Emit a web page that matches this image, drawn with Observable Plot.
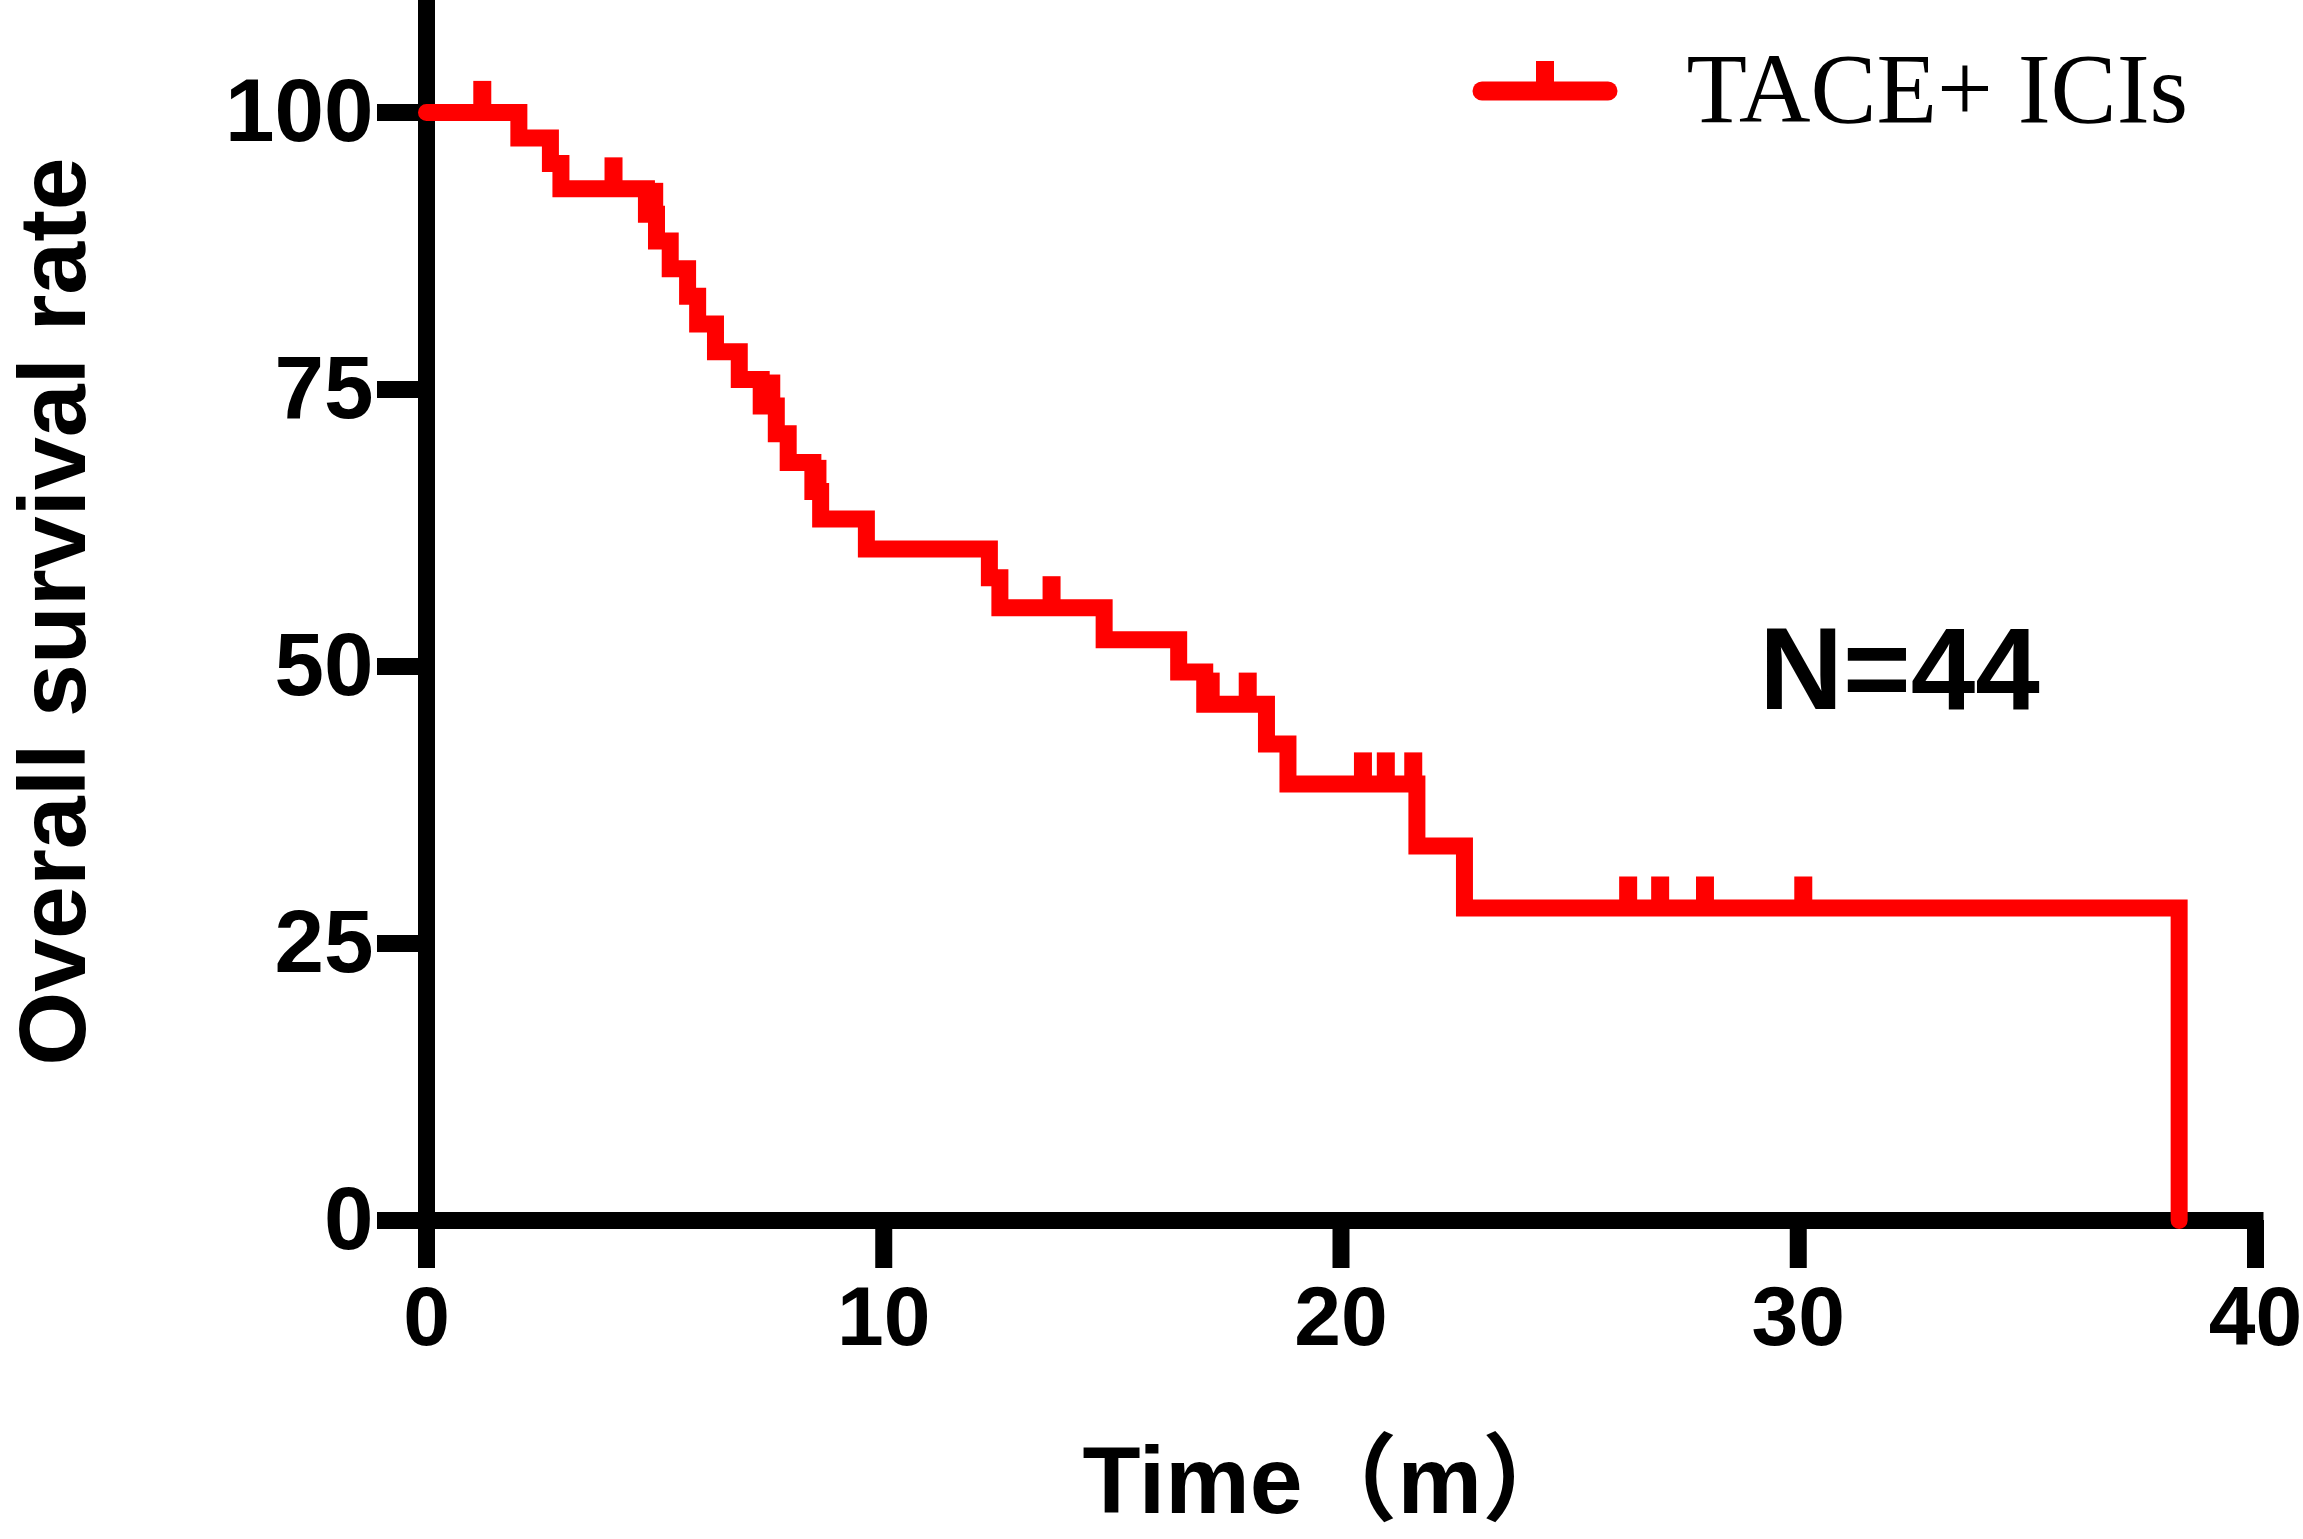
<!DOCTYPE html>
<html>
<head>
<meta charset="utf-8">
<script src="https://cdn.jsdelivr.net/npm/d3@7"></script>
<script src="https://cdn.jsdelivr.net/npm/@observablehq/plot@0.6"></script>
<style>
  html, body { margin: 0; padding: 0; background: #fff; }
</style>
</head>
<body>
<div id="chart"></div>
<script>
// Kaplan–Meier steps: time (months) at which survival drops, and survival (%) after the drop
const times    = [0, 2.02, 2.71, 2.94, 4.81, 5.03, 5.33, 5.71, 5.93, 6.32, 6.84, 7.32, 7.65, 7.91, 8.45, 8.62, 9.62, 12.31, 12.54, 14.82, 16.45, 17.02, 18.37, 18.84, 21.66, 22.70, 38.33];
const survival = [100, 97.7, 95.4, 93.1, 90.8, 88.4, 85.9, 83.4, 80.9, 78.4, 75.9, 73.5, 71.0, 68.4, 65.8, 63.3, 60.6, 58.0, 55.3, 52.4, 49.5, 46.6, 43.0, 39.4, 33.8, 28.2, 0];
// censored observations (months)
const censorTimes = [1.22, 4.09, 4.98, 7.54, 8.55, 13.67, 17.15, 17.96, 20.48, 20.98, 21.58, 26.28, 26.98, 27.96, 30.11];
const xTicks = [0, 10, 20, 30, 40];
const yTicks = [0, 25, 50, 75, 100];
const seriesName = "TACE+ ICIs";
const nLabel = "N=44";
const xLabel = "Time（m）";
const yLabel = "Overall survival rate";

const RED = "#ff0000";
const curve = times.map((t, i) => ({t, s: survival[i]}));
const levelAt = t => { let s = survival[0]; for (let i = 0; i < times.length; i++) if (times[i] <= t) s = survival[i]; return s; };
const censors = censorTimes.map(t => ({t, s: levelAt(t)}));
const censorLen = 2.8; // tick height in y units

function legendMark(index, scales, values, dims) {
  const g = d3.create("svg:g");
  g.append("line")
    .attr("x1", 1482).attr("x2", 1608).attr("y1", 91).attr("y2", 91)
    .attr("stroke", RED).attr("stroke-width", 19).attr("stroke-linecap", "round");
  g.append("line")
    .attr("x1", 1545).attr("x2", 1545).attr("y1", 91).attr("y2", 61)
    .attr("stroke", RED).attr("stroke-width", 18);
  return g.node();
}

const chart = Plot.plot({
  width: 2303,
  height: 1539,
  marginLeft: 426,
  marginRight: 48,
  marginTop: 0,
  marginBottom: 319,
  style: {fontFamily: "'Liberation Sans', Arial, 'Noto Sans CJK SC', sans-serif", background: "#fff", color: "#000"},
  x: {domain: [0, 40]},
  y: {domain: [0, 110.1]},
  marks: [
    Plot.ruleY([0], {stroke: "#000", strokeWidth: 17, strokeLinecap: "square"}),
    Plot.ruleX([0], {stroke: "#000", strokeWidth: 17, strokeLinecap: "butt"}),
    Plot.axisX({ticks: xTicks, tickSize: 48, tickPadding: 17, strokeWidth: 17, fontSize: 84, fontWeight: "bold", tickFormat: d => String(d), label: null}),
    Plot.axisY({ticks: yTicks, tickSize: 49, tickPadding: 4, strokeWidth: 17, fontSize: 89, fontWeight: "bold", tickFormat: d => String(d), label: null}),
    Plot.line(curve, {x: "t", y: "s", curve: "step-after", stroke: RED, strokeWidth: 17, strokeLinecap: "round", strokeLinejoin: "miter", strokeMiterlimit: 4}),
    Plot.ruleX(censors, {x: "t", y1: "s", y2: d => d.s + censorLen, stroke: RED, strokeWidth: 18}),
    Plot.text([xLabel], {frameAnchor: "bottom-left", dx: 656, dy: 262, textAnchor: "start", lineAnchor: "middle", fontSize: 95, fontWeight: "bold"}),
    Plot.text([yLabel], {frameAnchor: "left", dx: -372, dy: 1, rotate: -90, textAnchor: "middle", lineAnchor: "middle", fontSize: 95, fontWeight: "bold"}),
    Plot.text([nLabel], {frameAnchor: "top-left", dx: 1473, dy: 671, textAnchor: "middle", lineAnchor: "middle", fontSize: 116, fontWeight: "bold"}),
    Plot.text([seriesName], {frameAnchor: "top-left", dx: 1260, dy: 90, textAnchor: "start", lineAnchor: "middle", fontSize: 99, fontFamily: "'Liberation Serif', 'Times New Roman', serif"}),
    legendMark
  ]
});
document.getElementById("chart").append(chart);
</script>
</body>
</html>
